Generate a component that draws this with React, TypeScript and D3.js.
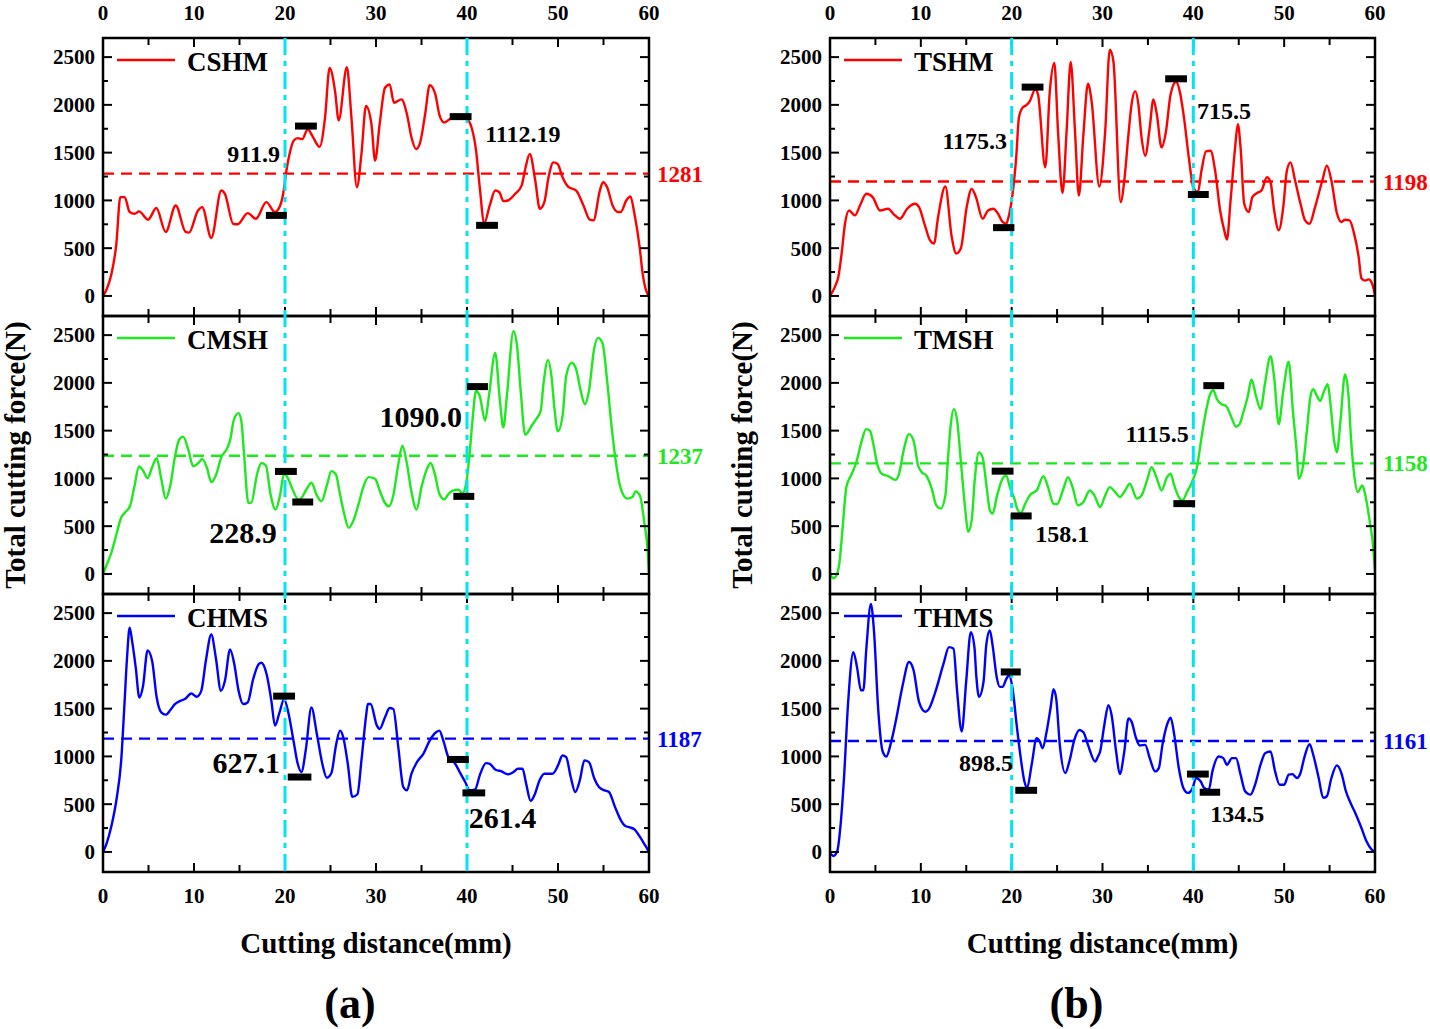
import * as d3 from "d3";

type Pt = [number, number];
type Mark = [number, number, number];
type Note = [string, number, number, "start" | "end"];

const FONT = "'Times New Roman', 'Liberation Serif', serif";

// cutting distance (mm), total cutting force (N)
const CSHM: Pt[] = [[0,0],[0.37,62],[0.9,219],[1.47,548],[1.9,1034],[2.38,1034],[2.93,878],[3.48,860],[3.96,885],[4.95,798],[5.86,920],[6.89,670],[7.99,947],[9.08,670],[9.45,663],[10.44,895],[10.9,930],[11.9,607],[13.0,1103],[13.4,1069],[14.3,756],[14.8,750],[15.9,867],[16.8,808],[17.95,982],[18.9,878],[19.4,930],[19.8,1069],[20.1,1277],[20.5,1485],[20.95,1624],[21.4,1652],[21.9,1641],[22.5,1745],[23.0,1676],[23.8,1561],[24.4,1867],[24.9,2387],[25.5,2144],[25.9,1839],[26.8,2394],[27.3,1867],[27.9,1138],[28.4,1485],[28.9,1988],[29.5,1797],[29.9,1416],[30.4,1797],[30.99,2179],[31.5,2214],[31.97,2023],[32.8,2058],[33.4,1902],[33.9,1659],[34.4,1537],[34.8,1589],[35.4,1902],[35.9,2207],[36.5,2117],[37.0,1884],[37.5,1815],[38.1,1850],[39.2,1867],[39.96,1850],[40.5,1763],[41.0,1520],[41.4,1138],[41.9,763],[42.5,947],[43.1,1103],[43.55,1086],[44.0,992],[44.5,999],[45.3,1069],[46.0,1155],[46.4,1329],[46.9,1485],[47.5,1208],[48.0,913],[48.5,982],[48.96,1242],[49.5,1398],[49.96,1381],[50.5,1242],[51.1,1145],[52.0,1103],[52.8,947],[53.5,798],[53.9,791],[54.6,1103],[54.95,1190],[55.4,1138],[56.0,947],[56.6,878],[56.9,878],[57.5,999],[57.96,1041],[58.4,860],[58.97,514],[59.3,236],[59.9,10],[60,0]];

const CMSH: Pt[] = [[0,0],[0.4,94],[0.95,232],[1.5,423],[2.0,590],[2.4,642],[2.97,711],[3.44,909],[3.96,1124],[4.4,1083],[4.9,1003],[5.4,1117],[5.9,1211],[6.4,996],[6.9,788],[7.36,909],[7.9,1221],[8.35,1402],[8.8,1437],[9.4,1291],[9.9,1128],[10.5,1162],[10.9,1204],[11.4,1117],[11.9,961],[12.4,1031],[13.0,1221],[13.6,1308],[13.96,1395],[14.4,1620],[14.9,1683],[15.2,1603],[15.5,1256],[15.97,743],[16.3,746],[16.9,1031],[17.4,1162],[17.9,1135],[18.4,840],[18.97,673],[19.45,822],[19.9,1048],[20.3,1006],[20.8,892],[21.5,777],[21.8,795],[22.4,892],[22.9,954],[23.5,822],[24.0,760],[24.6,926],[25.1,1076],[25.6,1041],[26.0,857],[26.5,632],[27.0,482],[27.5,555],[28.1,736],[28.6,909],[29.2,1013],[29.9,996],[30.4,874],[30.99,743],[31.4,708],[31.9,822],[32.46,1152],[32.9,1343],[33.37,1169],[33.9,857],[34.46,673],[35.0,909],[35.6,1100],[36.0,1162],[36.5,1031],[36.96,840],[37.5,781],[37.9,829],[38.5,874],[39.05,881],[39.5,847],[39.9,944],[40.25,1221],[40.6,1603],[40.99,1915],[41.4,1863],[41.99,1603],[42.4,1853],[43.1,2314],[43.6,1829],[43.99,1534],[44.4,1881],[45.1,2540],[45.5,2384],[45.9,1915],[46.4,1457],[46.6,1471],[47.1,1551],[47.6,1620],[48.1,1707],[48.4,1985],[48.9,2238],[49.3,2054],[49.6,1742],[49.98,1492],[50.5,1655],[50.9,2072],[51.5,2210],[52.0,2141],[52.5,1915],[52.96,1777],[53.4,1915],[53.96,2349],[54.4,2471],[54.9,2412],[55.4,2020],[55.9,1534],[56.4,1145],[56.9,892],[57.6,788],[58.2,805],[58.5,864],[59.0,822],[59.5,527],[59.85,250],[60,7]];

const CHMS: Pt[] = [[0,0],[0.4,90],[0.95,281],[1.5,559],[2.0,958],[2.34,1513],[2.64,2033],[2.93,2346],[3.2,2207],[3.6,1929],[3.99,1617],[4.4,1738],[4.9,2110],[5.4,1999],[5.9,1617],[6.4,1461],[6.9,1437],[7.4,1485],[7.9,1548],[8.5,1582],[9.0,1600],[9.7,1659],[10.3,1624],[10.8,1686],[11.3,1999],[11.9,2276],[12.4,2033],[12.96,1686],[13.4,1791],[13.96,2120],[14.4,1981],[14.9,1686],[15.4,1548],[15.9,1565],[16.5,1808],[17.1,1964],[17.4,1981],[17.98,1860],[18.5,1582],[18.9,1322],[19.4,1461],[19.9,1600],[20.4,1443],[20.9,1183],[21.4,923],[21.8,836],[22.3,1079],[22.9,1513],[23.5,1235],[24.1,923],[24.6,777],[25.1,826],[25.6,1114],[26.05,1270],[26.4,1201],[26.9,923],[27.4,576],[27.96,604],[28.4,958],[28.9,1416],[29.1,1548],[29.4,1548],[30.1,1322],[30.4,1287],[30.99,1409],[31.5,1506],[31.9,1496],[32.45,1097],[33.0,680],[33.4,645],[33.9,819],[34.5,940],[35.2,1027],[35.9,1166],[36.6,1253],[36.96,1270],[37.4,1166],[37.95,992],[38.7,923],[39.2,836],[39.8,732],[40.3,645],[40.9,656],[41.4,802],[42.1,930],[42.5,923],[43.1,864],[43.8,843],[44.5,812],[45.1,836],[45.6,871],[46.1,871],[46.5,715],[46.99,534],[47.4,593],[48.0,756],[48.5,819],[49.4,819],[50.0,906],[50.5,1010],[50.9,992],[51.4,784],[51.9,628],[52.4,750],[52.9,958],[53.4,940],[54.0,767],[54.5,680],[55.1,645],[55.6,628],[56.26,472],[56.9,333],[57.4,271],[57.9,257],[58.4,236],[58.99,160],[59.55,73],[60,0]];

const TSHM: Pt[] = [[0,0],[0.55,97],[0.92,201],[1.28,444],[1.65,756],[2.1,895],[2.75,843],[3.3,947],[4.0,1069],[4.7,1034],[5.5,895],[6.4,913],[6.97,860],[7.7,808],[8.5,913],[9.36,965],[9.8,930],[10.5,722],[11.0,583],[11.45,548],[11.9,826],[12.7,1145],[13.4,618],[13.9,444],[14.4,496],[15.05,930],[15.6,1121],[16.07,1034],[16.8,808],[17.4,895],[17.98,913],[18.5,860],[19.0,774],[19.4,756],[19.7,843],[20.1,1069],[20.5,1450],[20.8,1867],[21.2,1971],[21.65,1999],[22.0,2040],[22.6,2162],[22.9,2110],[23.7,1346],[24.2,2144],[24.7,2439],[25.1,1728],[25.6,1076],[26.05,1728],[26.5,2450],[26.97,1728],[27.4,1051],[27.9,1693],[28.4,2221],[28.8,2040],[29.65,1145],[30.3,1728],[30.8,2578],[31.2,2457],[32.0,982],[32.4,1208],[32.86,1693],[33.2,2006],[33.6,2144],[33.95,2006],[34.3,1659],[34.7,1468],[35.2,1763],[35.6,2058],[35.98,1902],[36.5,1555],[36.97,1711],[37.5,2110],[38.1,2242],[38.5,2144],[38.97,1867],[39.5,1450],[40.0,1138],[40.5,1086],[40.9,1312],[41.4,1513],[41.9,1520],[42.4,1312],[42.95,895],[43.4,687],[43.7,590],[44.1,999],[44.6,1555],[44.9,1797],[45.2,1555],[45.6,965],[46.1,878],[46.5,1034],[47.0,1076],[47.5,1103],[48.1,1242],[48.5,1190],[48.9,895],[49.4,687],[49.9,930],[50.3,1312],[50.7,1398],[51.2,1208],[51.8,965],[52.3,791],[52.8,756],[53.4,930],[54.2,1208],[54.7,1364],[55.2,1208],[55.8,868],[56.3,774],[56.7,798],[57.2,791],[57.7,652],[58.2,409],[58.5,184],[58.9,160],[59.3,173],[59.7,125],[60,10]];

const TMSH: Pt[] = [[0,7],[0.37,-45],[0.73,-10],[1.03,111],[1.4,493],[1.8,909],[2.4,1048],[2.9,1169],[3.5,1395],[3.97,1516],[4.4,1499],[4.77,1360],[5.2,1152],[5.7,1048],[6.4,1024],[7.2,985],[7.6,1048],[8.1,1291],[8.7,1464],[9.2,1395],[9.7,1135],[10.1,1065],[10.6,1031],[11.2,892],[11.7,718],[12.2,684],[12.7,822],[13.0,1221],[13.3,1568],[13.65,1725],[14.0,1603],[14.4,1187],[14.9,666],[15.2,441],[15.6,562],[15.96,1013],[16.4,1273],[16.8,1221],[17.2,944],[17.6,666],[17.9,632],[18.4,822],[18.9,979],[19.4,1031],[19.8,909],[20.3,788],[20.6,684],[21.0,638],[21.5,736],[22.0,822],[22.8,881],[23.5,1024],[24.0,909],[24.6,736],[25.0,729],[25.7,892],[26.2,1013],[26.7,909],[27.3,718],[27.9,753],[28.6,874],[29.1,822],[29.74,701],[30.3,822],[30.8,909],[31.4,857],[31.9,805],[32.5,874],[33.0,944],[33.8,788],[34.3,822],[34.9,979],[35.4,1117],[36.0,996],[36.5,874],[37.1,1013],[37.5,1048],[37.9,926],[38.4,805],[38.8,770],[39.3,857],[39.9,972],[40.4,1117],[40.9,1430],[41.4,1707],[41.85,1881],[42.2,1922],[42.6,1829],[43.1,1777],[43.6,1759],[44.2,1638],[44.7,1541],[45.1,1568],[45.5,1690],[46.0,1863],[46.4,2037],[46.9,1863],[47.4,1725],[47.9,2002],[48.5,2280],[48.9,2054],[49.4,1568],[49.9,1915],[50.5,2221],[50.96,1707],[51.4,1256],[51.6,996],[52.05,1117],[52.5,1499],[52.9,1863],[53.2,1933],[53.6,1863],[53.96,1811],[54.4,1915],[54.8,1985],[55.1,1777],[55.5,1395],[55.8,1273],[56.2,1603],[56.7,2089],[57.1,1846],[57.35,1430],[57.7,1048],[58.1,857],[58.6,926],[58.9,840],[59.4,562],[59.8,285],[60,24]];

const THMS: Pt[] = [[0,-7],[0.37,-42],[0.8,10],[1.17,288],[1.54,774],[2.0,1572],[2.57,2092],[3.0,1919],[3.4,1693],[3.67,1693],[4.0,2127],[4.5,2596],[4.85,2301],[5.3,1503],[5.8,1051],[6.2,999],[6.7,1138],[7.3,1398],[8.0,1745],[8.7,1988],[9.2,1902],[9.8,1572],[10.5,1468],[10.8,1485],[11.6,1676],[12.5,1971],[13.1,2144],[13.6,2127],[14.0,1676],[14.5,1260],[14.99,1780],[15.5,2301],[15.9,2144],[16.1,1850],[16.4,1624],[16.9,1780],[17.2,2162],[17.6,2318],[17.9,2162],[18.35,1832],[18.7,1728],[19.0,1728],[19.4,1808],[19.7,1850],[20.1,1711],[20.55,1329],[21.0,982],[21.4,739],[21.7,670],[22.2,913],[22.75,1190],[23.1,1155],[23.4,1086],[23.85,1260],[24.3,1520],[24.6,1704],[24.9,1607],[25.3,1121],[25.9,826],[26.35,947],[26.9,1173],[27.45,1277],[27.9,1253],[28.4,1121],[29.2,947],[29.5,999],[29.74,1051],[30.2,1329],[30.65,1537],[31.0,1433],[31.5,1051],[31.9,815],[32.4,1051],[32.86,1398],[33.2,1364],[33.7,1190],[34.1,1114],[34.7,1121],[35.2,982],[35.8,843],[36.2,878],[36.6,1121],[37.1,1329],[37.5,1405],[37.9,1225],[38.4,878],[38.9,670],[39.4,618],[39.9,663],[40.3,774],[40.8,739],[41.2,670],[41.7,652],[42.1,843],[42.8,999],[43.3,982],[43.7,913],[44.25,982],[44.7,982],[45.2,809],[45.7,635],[46.3,600],[46.8,704],[47.4,913],[47.9,1034],[48.5,1051],[49.0,843],[49.5,704],[50.0,704],[50.5,809],[50.9,815],[51.4,774],[51.8,826],[52.2,982],[52.8,1128],[53.2,1017],[53.8,774],[54.3,566],[54.7,583],[55.2,774],[55.8,906],[56.3,826],[56.8,635],[57.3,514],[57.9,392],[58.5,253],[59.05,115],[59.6,28],[60,0]];

// average force lines
const MEANS = { CSHM: 1281, CMSH: 1237, CHMS: 1187, TSHM: 1198, TMSH: 1158, THMS: 1161 };

// black level markers: from mm, to mm, force
const CSHM_MARKS: Mark[] = [[17.9,20.2,843],[21.1,23.5,1778],[38.1,40.5,1877],[41.0,43.4,739]];
const CMSH_MARKS: Mark[] = [[18.9,21.3,1073],[20.8,23.1,753],[40.0,42.3,1961],[38.5,40.8,812]];
const CHMS_MARKS: Mark[] = [[18.7,21.1,1631],[20.3,22.9,784],[37.8,40.2,968],[39.5,42.0,618]];
const TSHM_MARKS: Mark[] = [[17.95,20.3,715],[21.1,23.5,2186],[36.9,39.3,2273],[39.4,41.7,1062]];
const TMSH_MARKS: Mark[] = [[17.8,20.2,1076],[19.9,22.2,607],[41.1,43.4,1971],[37.8,40.2,736]];
const THMS_MARKS: Mark[] = [[18.8,21.0,1884],[20.4,22.8,645],[39.3,41.7,815],[40.7,42.95,625]];

// difference annotations: text, mm, force, anchor
const CSHM_NOTES: Note[] = [["911.9",19.45,1402,"end"],["1112.19",42.0,1614,"start"]];
const CMSH_NOTES: Note[] = [["228.9",19.1,323,"end"],["1090.0",39.45,1542,"end"]];
const CHMS_NOTES: Note[] = [["627.1",19.45,823,"end"],["261.4",40.2,250,"start"]];
const TSHM_NOTES: Note[] = [["1175.3",19.5,1538,"end"],["715.5",40.4,1851,"start"]];
const TMSH_NOTES: Note[] = [["158.1",22.6,337,"start"],["1115.5",39.5,1386,"end"]];
const THMS_NOTES: Note[] = [["898.5",20.15,844,"end"],["134.5",41.85,313,"start"]];

const X_MAJOR = [0, 10, 20, 30, 40, 50, 60];
const X_MINOR = [5, 15, 25, 35, 45, 55];
const Y_MAJOR = [0, 500, 1000, 1500, 2000, 2500];
const Y_MINOR = [250, 750, 1250, 1750, 2250];
const SPLITS = [20, 40];

const RED = "#ff0000";
const GREEN = "#1ee81e";
const BLUE = "#0000ff";
const CYAN = "#00e6f0";

const ROW_TOPS = [38, 316, 594];
const ROW_H = 278;

const columns = [
  {
    x0: 103, x1: 649, tag: "(a)",
    rows: [
      { name: "CSHM", data: CSHM, color: RED, mean: MEANS.CSHM, marks: CSHM_MARKS, notes: CSHM_NOTES, noteSize: 24 },
      { name: "CMSH", data: CMSH, color: GREEN, mean: MEANS.CMSH, marks: CMSH_MARKS, notes: CMSH_NOTES, noteSize: 30 },
      { name: "CHMS", data: CHMS, color: BLUE, mean: MEANS.CHMS, marks: CHMS_MARKS, notes: CHMS_NOTES, noteSize: 30 },
    ],
  },
  {
    x0: 830, x1: 1375, tag: "(b)",
    rows: [
      { name: "TSHM", data: TSHM, color: RED, mean: MEANS.TSHM, marks: TSHM_MARKS, notes: TSHM_NOTES, noteSize: 24 },
      { name: "TMSH", data: TMSH, color: GREEN, mean: MEANS.TMSH, marks: TMSH_MARKS, notes: TMSH_NOTES, noteSize: 24 },
      { name: "THMS", data: THMS, color: BLUE, mean: MEANS.THMS, marks: THMS_MARKS, notes: THMS_NOTES, noteSize: 24 },
    ],
  },
];

export default function App() {
  return (
    <svg
      width={1430}
      height={1029}
      style={{ position: "absolute", left: 0, top: 0, background: "#fff" }}
      fontFamily={FONT}
      fontWeight="bold"
    >
      <defs>
        {columns.map((col, ci) =>
          ROW_TOPS.map((top, ri) => (
            <clipPath key={`c${ci}${ri}`} id={`clip-${ci}-${ri}`}>
              <rect x={col.x0} y={top} width={col.x1 - col.x0} height={ROW_H} />
            </clipPath>
          )),
        )}
      </defs>
      {columns.map((col, ci) => {
        const x = d3.scaleLinear().domain([0, 60]).range([col.x0, col.x1]);
        const bottom = ROW_TOPS[2] + ROW_H;
        const mid = (col.x0 + col.x1) / 2;
        return (
          <g key={ci}>
            {col.rows.map((row, ri) => {
              const top = ROW_TOPS[ri];
              const y = d3.scaleLinear().domain([-210, 2700]).range([top + ROW_H, top]);
              const line = d3
                .line<Pt>()
                .x((d) => x(d[0]))
                .y((d) => y(d[1]))
                .curve(d3.curveMonotoneX);
              return (
                <g key={row.name}>
                  <path
                    d={line(row.data) ?? ""}
                    fill="none"
                    stroke={row.color}
                    strokeWidth={2.4}
                    strokeLinejoin="round"
                    clipPath={`url(#clip-${ci}-${ri})`}
                  />
                  <line
                    x1={col.x0}
                    x2={col.x1}
                    y1={y(row.mean)}
                    y2={y(row.mean)}
                    stroke={row.color}
                    strokeWidth={2.3}
                    strokeDasharray="11 7"
                  />
                  <text x={col.x1 + 8} y={y(row.mean)} dy="0.35em" fill={row.color} fontSize={23}>
                    {row.mean}
                  </text>
                  {/* frame */}
                  <rect x={col.x0} y={top} width={col.x1 - col.x0} height={ROW_H} fill="none" stroke="#000" strokeWidth={2.5} />
                  {/* y ticks both sides */}
                  {[...Y_MAJOR.map((v) => [v, 9]), ...Y_MINOR.map((v) => [v, 5])].map(([v, len]) => (
                    <g key={`y${v}`}>
                      <line x1={col.x0} x2={col.x0 + len} y1={y(v)} y2={y(v)} stroke="#000" strokeWidth={2} />
                      <line x1={col.x1} x2={col.x1 - len} y1={y(v)} y2={y(v)} stroke="#000" strokeWidth={2} />
                    </g>
                  ))}
                  {Y_MAJOR.map((v) => (
                    <text key={`yl${v}`} x={col.x0 - 8} y={y(v)} dy="0.35em" textAnchor="end" fontSize={21}>
                      {v}
                    </text>
                  ))}
                  {/* x ticks top and bottom */}
                  {[...X_MAJOR.map((v) => [v, 9]), ...X_MINOR.map((v) => [v, 7])].map(([v, len]) => (
                    <g key={`x${v}`}>
                      <line x1={x(v)} x2={x(v)} y1={top} y2={top + len} stroke="#000" strokeWidth={2} />
                      <line x1={x(v)} x2={x(v)} y1={top + ROW_H} y2={top + ROW_H - len} stroke="#000" strokeWidth={2} />
                    </g>
                  ))}
                  {/* legend */}
                  <line x1={col.x0 + 14} x2={col.x0 + 72} y1={top + 22} y2={top + 22} stroke={row.color} strokeWidth={2.4} />
                  <text x={col.x0 + 84} y={top + 33} fontSize={27}>
                    {row.name}
                  </text>
                </g>
              );
            })}
            {SPLITS.map((v) => (
              <line
                key={`s${v}`}
                x1={x(v)}
                x2={x(v)}
                y1={ROW_TOPS[0]}
                y2={bottom}
                stroke={CYAN}
                strokeWidth={3}
                strokeDasharray="17 6 5 6"
              />
            ))}
            {col.rows.map((row, ri) => {
              const top = ROW_TOPS[ri];
              const y = d3.scaleLinear().domain([-210, 2700]).range([top + ROW_H, top]);
              return (
                <g key={`m${row.name}`}>
                  {row.marks.map(([a, b, v], i) => (
                    <rect key={i} x={x(a)} y={y(v) - 3.5} width={x(b) - x(a)} height={7} fill="#000" />
                  ))}
                  {row.notes.map(([t, a, v, anchor]) => (
                    <text key={t} x={x(a)} y={y(v)} textAnchor={anchor} fontSize={row.noteSize}>
                      {t}
                    </text>
                  ))}
                </g>
              );
            })}
            {X_MAJOR.map((v) => (
              <g key={`xl${v}`}>
                <text x={x(v)} y={20} textAnchor="middle" fontSize={21}>
                  {v}
                </text>
                <text x={x(v)} y={bottom + 31} textAnchor="middle" fontSize={21}>
                  {v}
                </text>
              </g>
            ))}
            <text x={mid} y={953} textAnchor="middle" fontSize={29}>
              Cutting distance(mm)
            </text>
            <text
              transform={`translate(${col.x0 - 78},${(ROW_TOPS[0] + bottom) / 2}) rotate(-90)`}
              textAnchor="middle"
              fontSize={29}
            >
              Total cutting force(N)
            </text>
            <text x={mid - 26} y={1018} textAnchor="middle" fontSize={44}>
              {col.tag}
            </text>
          </g>
        );
      })}
    </svg>
  );
}
